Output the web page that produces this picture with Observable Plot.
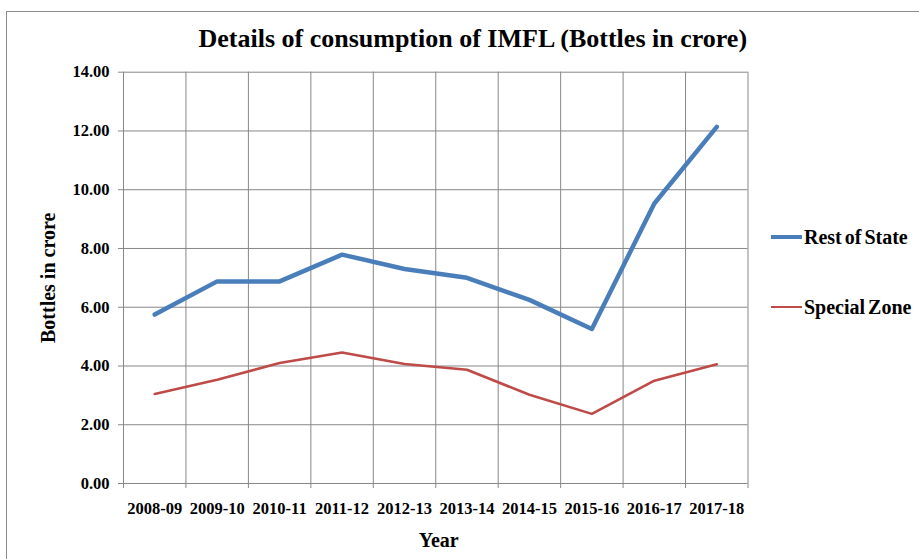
<!DOCTYPE html>
<html>
<head>
<meta charset="utf-8">
<script src="https://cdn.jsdelivr.net/npm/d3@7"></script>
<script src="https://cdn.jsdelivr.net/npm/@observablehq/plot@0.6"></script>
<style>
  html, body { margin: 0; padding: 0; background: #fff; }
  #wrap { position: relative; width: 919px; height: 559px; overflow: hidden; font-family: "Liberation Serif", "Times New Roman", serif; }
  #frame { position: absolute; left: 6px; top: 11px; width: 940px; height: 600px; border-left: 1px solid #8c8c8c; border-top: 1px solid #8c8c8c; pointer-events: none; }
  .leg { position: absolute; left: 771px; height: 24px; display: flex; align-items: center; font-weight: bold; font-size: 20px; color: #000; white-space: nowrap; word-spacing: -2px; }
  .leg .sw { width: 31px; margin-right: 2px; }
</style>
</head>
<body>
<div id="wrap">
  <div id="chart"></div>
  <div id="frame"></div>
  <div id="legend"></div>
</div>
<script>
const years = ["2008-09","2009-10","2010-11","2011-12","2012-13","2013-14","2014-15","2015-16","2016-17","2017-18"];
const restOfState = [5.75, 6.88, 6.88, 7.79, 7.30, 7.00, 6.25, 5.26, 9.53, 12.14];
const specialZone = [3.05, 3.53, 4.10, 4.46, 4.07, 3.87, 3.02, 2.37, 3.50, 4.06];
const yTicks = [0, 2, 4, 6, 8, 10, 12, 14];
const seriesNames = ["Rest of State", "Special Zone"];
const seriesColors = ["#4a7ebb", "#be4b48"];
const titleText = "Details of consumption of IMFL (Bottles in crore)";
const xTitle = "Year";
const yTitle = "Bottles in crore";

const idx = years.map((_, i) => i);
const bounds = years.map((_, i) => i - 0.5).concat([years.length - 0.5]);
const gridColor = "#878787";

const chart = Plot.plot({
  width: 919,
  height: 559,
  marginLeft: 123,
  marginRight: 171.5,
  marginTop: 71.7,
  marginBottom: 76,
  style: { fontFamily: "'Liberation Serif', 'Times New Roman', serif", fontSize: "16.5px", fontWeight: "bold", color: "#000", background: "transparent" },
  x: { domain: [-0.5, years.length - 0.5], ticks: idx, tickFormat: i => years[i], tickSize: 0, tickPadding: 19, label: null },
  y: { domain: [0, 14], ticks: yTicks, tickFormat: d => d.toFixed(2), tickSize: 0, tickPadding: 14, label: null },
  marks: [
    Plot.ruleY(yTicks, { stroke: gridColor, strokeWidth: 1, insetLeft: -5 }),
    Plot.ruleX(bounds, { stroke: gridColor, strokeWidth: 1, insetBottom: -5 }),
    Plot.line(restOfState, { x: (d, i) => i, y: d => d, stroke: seriesColors[0], strokeWidth: 4.5, strokeLinejoin: "round", strokeLinecap: "round" }),
    Plot.line(specialZone, { x: (d, i) => i, y: d => d, stroke: seriesColors[1], strokeWidth: 2.6, strokeLinejoin: "round", strokeLinecap: "round" }),
    Plot.text([titleText], { frameAnchor: "top", textAnchor: "middle", dx: 37, dy: -34, fontSize: 26, fontWeight: "bold", lineAnchor: "middle", fill: "#000" }),
    Plot.text([yTitle], { frameAnchor: "left", textAnchor: "middle", dx: -75, rotate: -90, fontSize: 20, fontWeight: "bold", lineAnchor: "middle", fill: "#000" }),
    Plot.text([xTitle], { frameAnchor: "bottom", textAnchor: "middle", dx: 3, dy: 57, fontSize: 20, fontWeight: "bold", lineAnchor: "middle", fill: "#000" })
  ]
});
document.getElementById("chart").appendChild(chart);

const legend = document.getElementById("legend");
const legendTops = [225, 295];
seriesNames.forEach((name, k) => {
  const row = document.createElement("div");
  row.className = "leg";
  row.style.top = legendTops[k] + "px";
  const sw = document.createElement("div");
  sw.className = "sw";
  sw.style.borderTop = (k === 0 ? 4.5 : 2.6) + "px solid " + seriesColors[k];
  row.appendChild(sw);
  const t = document.createElement("span");
  t.textContent = name;
  row.appendChild(t);
  legend.appendChild(row);
});
</script>
</body>
</html>
